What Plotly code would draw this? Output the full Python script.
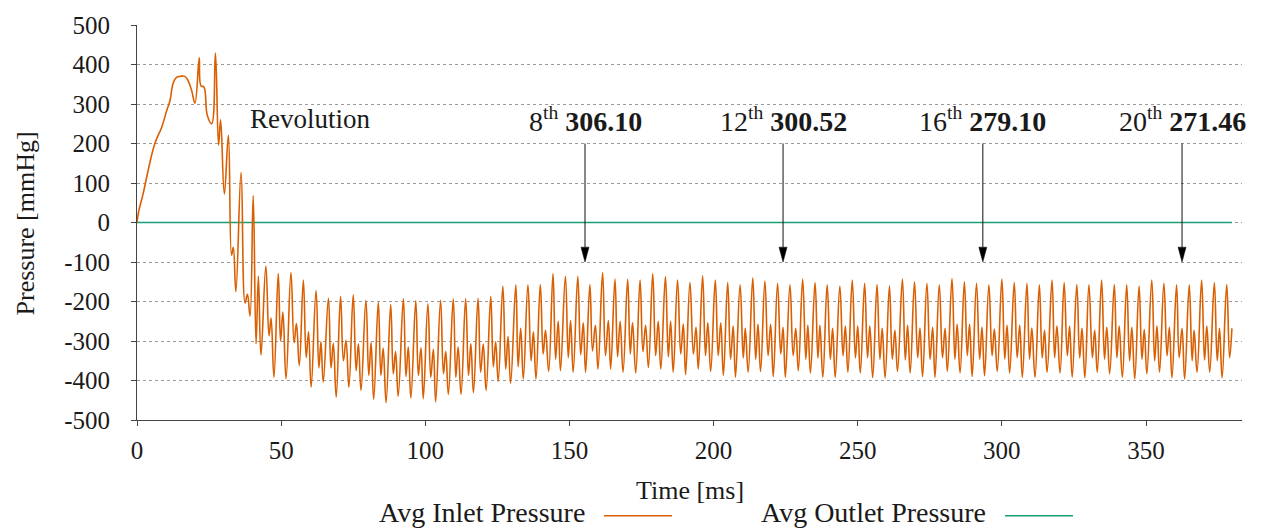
import plotly.graph_objects as go

# Average inlet pressure over time (turning points of the waveform)
inlet_time = [
    0, 0.5, 2.2, 3.9, 6.2, 8.6, 10.5, 11.4, 12.6, 13.8, 15.0, 16.6, 17.8, 19.0, 20.1,
    21.6, 22.2, 23.2, 24.4, 25.9, 27.2, 28.3, 29.0, 30.3, 31.7, 32.8, 33.4, 34.3, 36.1,
    37.5, 38.3, 39.2, 40.3, 41.3, 42.1, 43.0, 44.7, 45.8, 46.5, 47.5, 49.0, 49.8, 50.6,
    51.7, 53.4, 54.5, 55.3, 56.3, 57.7, 58.7, 59.5, 60.4, 62.1, 63.1, 63.8, 64.6, 66.4,
    67.3, 68.1, 69.1, 70.6, 71.6, 72.5, 73.5, 75.0, 76.0, 76.8, 77.7, 79.4, 80.4, 81.2,
    82.1, 83.7, 84.6, 85.4, 86.4, 88.0, 88.9, 89.7, 90.6, 92.4, 93.3, 94.1, 95.0, 96.7,
    97.6, 98.5, 99.3, 100.9, 101.9, 102.8, 103.6, 105.3, 106.3, 107.1, 108.0, 109.7,
    110.6, 111.4, 112.4, 114.0, 115.0, 115.8, 116.7, 118.3, 119.2, 120.1, 121.1, 122.7,
    123.6, 124.4, 125.3, 126.9, 127.9, 128.7, 129.6, 131.4, 132.2, 133.1, 134.0, 135.6,
    136.7, 137.5, 138.4, 139.9, 140.9, 141.7, 142.8, 144.3, 145.2, 146.1, 146.9, 148.6,
    149.6, 150.4, 151.3, 152.9, 153.9, 154.8, 155.6, 157.1, 158.0, 159.0, 159.9, 161.5,
    162.5, 163.5, 164.3, 165.8, 166.7, 167.6, 168.6, 170.2, 171.1, 171.9, 173.0, 174.5,
    175.5, 176.4, 177.4, 178.9, 179.9, 180.8, 181.7, 183.3, 184.3, 185.1, 186.0, 187.5,
    188.6, 189.5, 190.3, 191.8, 193.0, 193.9, 194.7, 196.2, 197.2, 198.0, 199.0, 200.6,
    201.6, 202.5, 203.4, 204.9, 205.9, 206.8, 207.6, 209.2, 210.3, 211.0, 212.0, 213.6,
    214.6, 215.4, 216.3, 217.8, 218.9, 219.8, 220.7, 222.2, 223.3, 224.1, 224.9, 226.5,
    227.6, 228.5, 229.4, 230.9, 232.0, 232.7, 233.6, 235.2, 236.2, 236.9, 237.9, 239.4,
    240.5, 241.3, 242.2, 243.8, 244.9, 245.7, 246.6, 248.1, 249.2, 250.0, 250.9, 252.4,
    253.4, 254.2, 255.2, 256.7, 257.7, 258.5, 259.5, 261.0, 262.0, 262.9, 263.8, 265.5,
    266.5, 267.3, 268.2, 269.7, 270.8, 271.6, 272.5, 274.0, 275.1, 276.0, 276.8, 278.3,
    279.4, 280.3, 281.1, 282.7, 283.7, 284.5, 285.5, 287.0, 288.0, 288.8, 289.7, 291.2,
    292.3, 293.1, 294.0, 295.5, 296.6, 297.4, 298.4, 300.0, 301.0, 301.8, 302.7, 304.3,
    305.3, 306.2, 307.1, 308.7, 309.6, 310.4, 311.5, 313.0, 314.0, 314.8, 315.7, 317.4,
    318.3, 319.1, 320.2, 321.6, 322.7, 323.5, 324.4, 326.0, 327.0, 327.8, 328.8, 330.2,
    331.4, 332.2, 333.1, 334.6, 335.6, 336.4, 337.4, 339.0, 339.9, 340.7, 341.8, 343.3,
    344.3, 345.1, 346.1, 347.6, 348.6, 349.4, 350.3, 352.0, 353.0, 353.8, 354.7, 356.2,
    357.3, 358.1, 359.0, 360.6, 361.5, 362.5, 363.4, 365.0, 366.0, 366.7, 367.7, 369.3,
    370.3, 371.1, 372.1, 373.7, 374.7, 375.5, 376.4, 378.0, 379.0, 379.8,
]
inlet_pressure = [
    0, 25, 75, 133, 200, 242, 288, 307, 354, 368, 370, 370, 358, 333, 302,
    417, 346, 343, 271, 250, 429, 196, 260, 72, 221, -83, -63, -175, 127,
    -204, -182, -237, 68, -307, -136, -336, -110, -287, -242, -392, -129, -300, -227,
    -396, -127, -304, -256, -362, -146, -342, -277, -417, -172, -368, -302, -404, -192,
    -368, -306, -442, -187, -350, -298, -417, -183, -375, -307, -425, -197, -387, -304,
    -448, -202, -387, -318, -456, -208, -383, -327, -440, -193, -390, -315, -444, -198,
    -387, -317, -446, -206, -392, -321, -454, -197, -383, -327, -435, -193,
    -392, -315, -435, -193, -387, -307, -431, -192, -379, -308, -425, -187,
    -365, -302, -402, -161, -371, -289, -407, -158, -365, -268, -396, -158,
    -350, -277, -396, -157, -333, -273, -377, -129, -346, -250, -375, -136,
    -342, -248, -379, -136, -335, -254, -379, -157, -325, -260, -371, -127,
    -337, -248, -371, -143, -340, -250, -379, -144, -333, -254, -381, -146,
    -327, -260, -367, -129, -337, -250, -371, -137, -340, -250, -379, -146,
    -333, -257, -385, -152, -333, -265, -371, -135, -337, -254, -377, -146,
    -337, -254, -387, -152, -346, -262, -392, -158, -343, -268, -379, -140,
    -346, -258, -377, -148, -337, -258, -390, -154, -333, -265, -392, -158,
    -337, -268, -375, -143, -346, -260, -381, -152, -343, -260, -392, -158,
    -346, -268, -392, -161, -337, -262, -379, -146, -343, -262, -381, -154,
    -342, -262, -393, -157, -346, -268, -393, -160, -346, -273, -377, -143,
    -348, -260, -381, -150, -342, -267, -390, -154, -346, -265, -392, -158,
    -342, -268, -377, -142, -346, -258, -381, -150, -337, -258, -390, -154,
    -346, -265, -388, -158, -337, -270, -377, -143, -346, -260, -381, -152,
    -342, -260, -392, -154, -346, -267, -392, -158, -343, -273, -379, -146,
    -342, -262, -381, -152, -337, -262, -392, -157, -343, -268, -393, -158,
    -342, -273, -379, -146, -346, -265, -383, -157, -342, -262, -392, -158,
    -350, -265, -396, -161, -346, -271, -383, -146, -350, -262, -379, -154,
    -337, -265, -393, -158, -342, -268, -396, -158, -350, -273, -379, -146,
    -348, -262, -379, -152, -350, -268, -393, -157, -342, -268,
]

# Average outlet pressure stays flat at zero
outlet_time = [0, 379.8]
outlet_pressure = [0, 0]

# Revolution markers: time of the arrow, revolution number and peak value
rev_time = [155.4, 224.1, 293.4, 362.5]
rev_number = ["8", "12", "16", "20"]
rev_value = ["306.10", "300.52", "279.10", "271.46"]
arrow_top = 200
arrow_tip = -100
label_y = 262

y_ticks = list(range(-500, 501, 100))
x_ticks = list(range(0, 351, 50))

FONT = "Liberation Serif, Times New Roman, serif"
TXT = "#1a1a1a"
ORANGE = "#D95F02"
GREEN = "#1B9E77"

W, H = 1263, 531
L, R, T, B = 137, 21, 20, 111
X_MAX = 383.3
Y_MIN, Y_MAX = -500, 500
px_per_x = (W - L - R) / X_MAX
px_per_y = (H - T - B) / (Y_MAX - Y_MIN)

fig = go.Figure()
fig.add_trace(go.Scatter(
    x=outlet_time, y=outlet_pressure, mode="lines",
    line=dict(color=GREEN, width=1.5), showlegend=False, hoverinfo="skip",
))
fig.add_trace(go.Scatter(
    x=inlet_time, y=inlet_pressure, mode="lines",
    line=dict(color=ORANGE, width=1.6, shape="spline", smoothing=1.2),
    showlegend=False,
))

shapes = []
annotations = []

# Arrows pointing at each marked revolution
head_len = 15 / px_per_y
head_half = 4 / px_per_x
for t, n, v in zip(rev_time, rev_number, rev_value):
    shapes.append(dict(type="line", xref="x", yref="y", x0=t, x1=t,
                       y0=arrow_top, y1=arrow_tip + head_len,
                       line=dict(color="#111", width=1)))
    shapes.append(dict(
        type="path", xref="x", yref="y",
        path=f"M{t - head_half},{arrow_tip + head_len} L{t + head_half},{arrow_tip + head_len} L{t},{arrow_tip} Z",
        fillcolor="#000", line=dict(color="#000", width=0.5)))
    annotations.append(dict(
        x=t, y=label_y, xref="x", yref="y", showarrow=False,
        text=f"{n}<sup>th</sup> <b>{v}</b>",
        font=dict(family=FONT, size=28, color=TXT), xanchor="center", yanchor="middle"))

annotations.append(dict(
    x=60, y=label_y, xref="x", yref="y", showarrow=False, text="Revolution",
    font=dict(family=FONT, size=27, color=TXT), xanchor="center", yanchor="middle"))


def paper_x(px):
    return (px - L) / (W - L - R)


def paper_y(py):
    return (H - B - py) / (H - T - B)


# Axis titles
annotations.append(dict(
    x=0.5, y=paper_y(491), xref="paper", yref="paper", showarrow=False,
    text="Time [ms]", font=dict(family=FONT, size=26, color=TXT),
    xanchor="center", yanchor="middle"))
annotations.append(dict(
    x=paper_x(25), y=paper_y(221), xref="paper", yref="paper", showarrow=False,
    text="Pressure [mmHg]", textangle=-90, font=dict(family=FONT, size=26, color=TXT),
    xanchor="center", yanchor="middle"))

# Legend: label followed by a line sample
legend_items = [("Avg Inlet Pressure", ORANGE, 587, 604, 672),
                ("Avg Outlet Pressure", GREEN, 988, 1005, 1073)]
for name, col, text_right, l0, l1 in legend_items:
    annotations.append(dict(
        x=paper_x(text_right), y=paper_y(514), xref="paper", yref="paper",
        showarrow=False, text=name, font=dict(family=FONT, size=28, color=TXT),
        xanchor="right", yanchor="middle"))
    shapes.append(dict(type="line", xref="paper", yref="paper",
                       x0=paper_x(l0), x1=paper_x(l1), y0=paper_y(517), y1=paper_y(517),
                       line=dict(color=col, width=1.5)))

fig.update_layout(
    width=W, height=H,
    margin=dict(l=L, r=R, t=T, b=B, pad=0),
    paper_bgcolor="white", plot_bgcolor="white",
    showlegend=False,
    shapes=shapes, annotations=annotations,
    font=dict(family=FONT, size=25, color=TXT),
    xaxis=dict(
        range=[0, X_MAX], tickvals=x_ticks, ticktext=[str(v) for v in x_ticks],
        showgrid=False, zeroline=False, showline=True, linecolor="#444", linewidth=1,
        ticks="outside", ticklen=5, tickcolor="#444", ticklabelstandoff=3,
        tickfont=dict(family=FONT, size=25, color=TXT),
    ),
    yaxis=dict(
        range=[Y_MIN, Y_MAX], tickvals=y_ticks, ticktext=[str(v) for v in y_ticks],
        showgrid=True, gridcolor="#9a9a9a", griddash="dot", gridwidth=1,
        zeroline=False, showline=True, linecolor="#444", linewidth=1,
        ticks="outside", ticklen=5, tickcolor="#444", ticklabelstandoff=16,
        tickfont=dict(family=FONT, size=25, color=TXT),
    ),
)

fig.write_html("out.html")
